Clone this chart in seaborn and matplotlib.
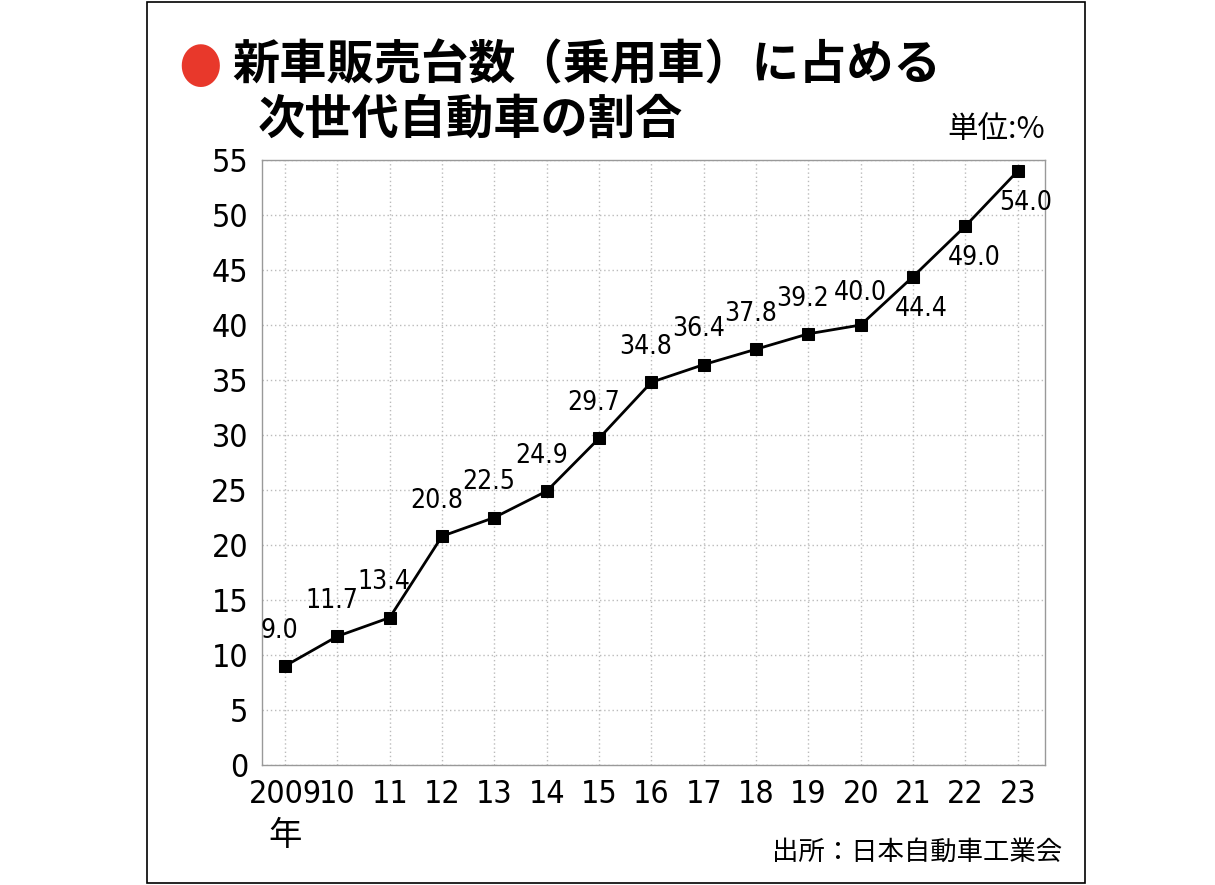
import matplotlib
matplotlib.use("Agg")
import matplotlib.pyplot as plt
import seaborn as sns
import pandas as pd

years = [2009, 2010, 2011, 2012, 2013, 2014, 2015, 2016, 2017, 2018, 2019, 2020, 2021, 2022, 2023]
share = [9.0, 11.7, 13.4, 20.8, 22.5, 24.9, 29.7, 34.8, 36.4, 37.8, 39.2, 40.0, 44.4, 49.0, 54.0]
xlabels = ["2009", "10", "11", "12", "13", "14", "15", "16", "17", "18", "19", "20", "21", "22", "23"]

df = pd.DataFrame({"year": years, "share": share})

sns.set_style("white")
plt.rcParams["font.family"] = ["DejaVu Sans", "Noto Sans CJK JP"]
plt.rcParams["font.stretch"] = "condensed"
plt.rcParams["text.color"] = "black"
plt.rcParams["xtick.color"] = "black"
plt.rcParams["ytick.color"] = "black"

fig = plt.figure(figsize=(12.15, 8.85), dpi=100)
fig.patches.append(plt.Rectangle((147 / 1215, 2 / 885), 938 / 1215, 881 / 885,
                                 transform=fig.transFigure, fill=False, edgecolor="black", lw=1.2))
ax = fig.add_axes([262 / 1215, 1 - 765 / 885, 783 / 1215, 605 / 885])

sns.lineplot(data=df, x="year", y="share", ax=ax, color="black", lw=2,
             marker="s", markersize=9, markeredgecolor="black", markerfacecolor="black")

ax.set_xlim(2008.56, 2023.52)
ax.set_ylim(0, 55)
ax.set_yticks(range(0, 56, 5))
ax.set_xticks(years)
ax.set_xticklabels(xlabels)
ax.tick_params(axis="both", labelsize=23, length=0, pad=10)
ax.set_xlabel("")
ax.set_ylabel("")
for s in ax.spines.values():
    s.set_color("#999999")
    s.set_linewidth(1)
ax.grid(True, color="#bbbbbb", linestyle=(0, (1, 2)), lw=1)

for x, y in zip(years, share):
    if x >= 2021:
        ax.annotate(f"{y:.1f}", (x, y), xytext=(6, -14), textcoords="offset points",
                    ha="center", va="top", fontsize=19)
    elif x == 2020:
        ax.annotate(f"{y:.1f}", (x, y), xytext=(0, 14), textcoords="offset points",
                    ha="center", va="bottom", fontsize=19)
    else:
        ax.annotate(f"{y:.1f}", (x, y), xytext=(-4, 16), textcoords="offset points",
                    ha="center", va="bottom", fontsize=19)

fig.text(200 / 1215, 1 - 65 / 885, "●", color="#e8382b", fontsize=40, ha="center", va="center",
         family="DejaVu Sans")
fig.text(232 / 1215, 1 - 65 / 885, "新車販売台数（乗用車）に占める", fontsize=34, fontweight="bold",
         ha="left", va="center", family="Noto Sans CJK JP")
fig.text(258 / 1215, 1 - 120 / 885, "次世代自動車の割合", fontsize=34, fontweight="bold",
         ha="left", va="center", family="Noto Sans CJK JP")
fig.text(1045 / 1215, 1 - 130 / 885, "単位:%", fontsize=22, ha="right", va="center",
         family="Noto Sans CJK JP")
fig.text(285 / 1215, 1 - 835 / 885, "年", fontsize=24, ha="center", va="center",
         family="Noto Sans CJK JP")
fig.text(1062 / 1215, 1 - 852 / 885, "出所：日本自動車工業会", fontsize=19, ha="right", va="center",
         family="Noto Sans CJK JP")

fig.savefig("out.png", dpi=100)
